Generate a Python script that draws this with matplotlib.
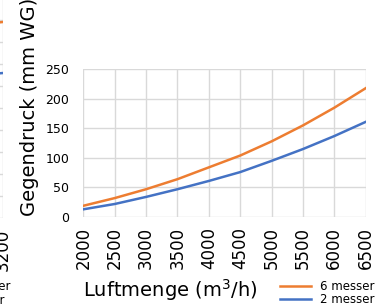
"""
Gegendruck vs Luftmenge chart.
"""

import matplotlib.pyplot as plt

plt.rcParams["font.family"] = ["DejaVu Sans"]

# right chart
luftmenge = [2000, 2500, 3000, 3500, 4000, 4500, 5000, 5500, 6000, 6500]
druck_6_messer = [19, 32, 47, 64, 84, 104, 128, 155, 185, 218]
druck_2_messer = [13, 22, 34, 47, 61, 76, 95, 115, 137, 161]
y_ticks = [0, 50, 100, 150, 200, 250]

# cut-off neighbour chart on the left edge
left_x = [3100, 3200]
left_6_messer = [880, 891]
left_2_messer = [650, 659]

ORANGE = "#ED7D31"
BLUE = "#4472C4"
GRID = "#d9d9d9"

W, H = 390, 307


def px_box(x0, y0, x1, y1):
    return [x0 / W, 1 - y1 / H, (x1 - x0) / W, (y1 - y0) / H]


fig = plt.figure(figsize=(W / 100, H / 100), dpi=100)


def style_axes(ax):
    ax.grid(True, color=GRID, linewidth=1)
    ax.set_axisbelow(True)
    for spine in ax.spines.values():
        spine.set_visible(False)
    ax.tick_params(length=0)


# left fragment
ax_left = fig.add_axes(px_box(-280, -2, 3, 218))
ax_left.plot(left_x, left_6_messer, color=ORANGE, linewidth=1.8)
ax_left.plot(left_x, left_2_messer, color=BLUE, linewidth=1.8)
ax_left.set_xlim(2000, 3200)
ax_left.set_ylim(0, 1000)
ax_left.set_xticks([3200])
ax_left.set_xticklabels(["3200"], rotation=90, fontsize=12)
ax_left.set_yticks(range(0, 1001, 100))
ax_left.set_yticklabels([])
style_axes(ax_left)
ax_left.tick_params(axis="x", pad=8)
fig.text(11 / W, 1 - 287 / H, "6 messer", ha="right", va="center", fontsize=8.5)
fig.text(5 / W, 1 - 300 / H, "2 messer", ha="right", va="center", fontsize=8.5)

# main chart
ax = fig.add_axes(px_box(83.3, 69.3, 365.7, 217))

ax.plot(luftmenge, druck_6_messer, color=ORANGE, linewidth=1.8,
        label="6 messer")
ax.plot(luftmenge, druck_2_messer, color=BLUE, linewidth=1.8,
        label="2 messer")

ax.set_xlim(2000, 6500)
ax.set_ylim(0, 250)
ax.set_xticks(luftmenge)
ax.set_xticklabels([str(v) for v in luftmenge], rotation=90, fontsize=12)
ax.set_yticks(y_ticks)
ax.set_yticklabels([str(v) for v in y_ticks], fontsize=9)
style_axes(ax)
ax.tick_params(axis="x", pad=7)
ax.tick_params(axis="y", pad=10)

fig.text(30 / W, 1 - 107 / H, "Gegendruck (mm WG)", rotation=90,
         ha="center", va="center", fontsize=14)
fig.text(83 / W, 1 - 290 / H, "Luftmenge (m$^3$/h)", ha="left",
         va="center", fontsize=14)

fig.legend(
    loc="center left",
    bbox_to_anchor=(274 / W, 1 - 293 / H),
    frameon=False,
    fontsize=8.5,
    handlelength=2.6,
    labelspacing=0.05,
    borderpad=0,
    handletextpad=0.8,
)

fig.savefig("out.png", dpi=100)
plt.close(fig)
